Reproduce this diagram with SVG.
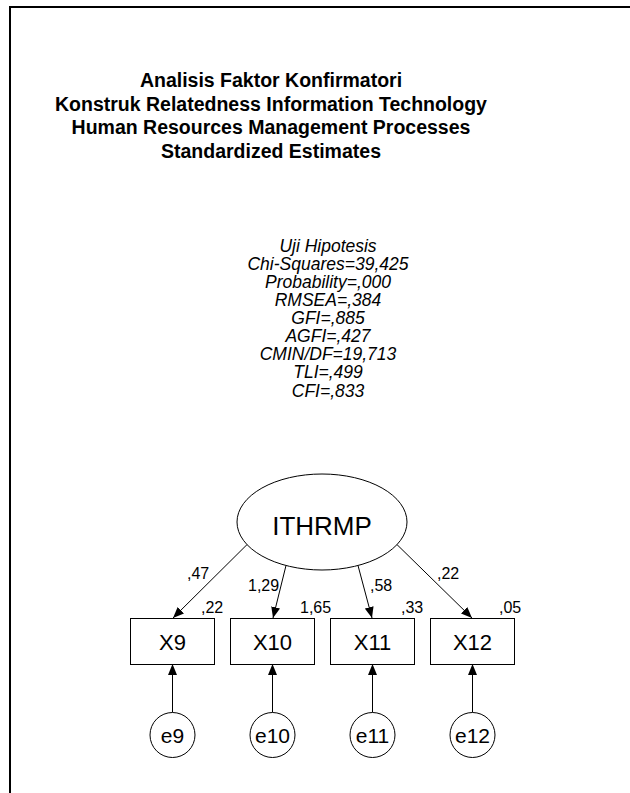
<svg xmlns="http://www.w3.org/2000/svg" width="630" height="793" viewBox="0 0 630 793">
<style>
.title{font-family:"Liberation Sans",Arial,sans-serif;font-weight:bold;font-size:19.5px;text-anchor:middle;fill:#000}
.fit{font-family:"Liberation Sans",Arial,sans-serif;font-style:italic;font-size:17.5px;text-anchor:middle;fill:#000}
.lbl{font-family:"Liberation Sans",Arial,sans-serif;font-size:16px;fill:#000}
.node{font-family:"Liberation Sans",Arial,sans-serif;font-size:22px;text-anchor:middle;fill:#000}
.shape{fill:#fff;stroke:#000;stroke-width:1}
.conn{stroke:#000;stroke-width:1;fill:none;marker-end:url(#ah)}
</style>
<defs>
<marker id="ah" markerWidth="11" markerHeight="9" refX="11" refY="4.5" orient="auto" markerUnits="userSpaceOnUse">
<path d="M0,0 L11,4.5 L0,9 Z" fill="#000"/>
</marker>
</defs>
<rect width="630" height="793" fill="#fff"/>
<path d="M10,793 V7 H630" fill="none" stroke="#000" stroke-width="2"/>
<g id="title">
<text class="title" x="271" y="87">Analisis Faktor Konfirmatori</text>
<text class="title" x="271" y="110.5">Konstruk Relatedness Information Technology</text>
<text class="title" x="271" y="134">Human Resources Management Processes</text>
<text class="title" x="271" y="157.5">Standardized Estimates</text>
</g>
<g id="fit">
<text class="fit" x="328" y="251.7">Uji Hipotesis</text>
<text class="fit" x="328" y="269.8">Chi-Squares=39,425</text>
<text class="fit" x="328" y="287.9">Probability=,000</text>
<text class="fit" x="328" y="306">RMSEA=,384</text>
<text class="fit" x="328" y="324.1">GFI=,885</text>
<text class="fit" x="328" y="342.2">AGFI=,427</text>
<text class="fit" x="328" y="360.3">CMIN/DF=19,713</text>
<text class="fit" x="328" y="378.4">TLI=,499</text>
<text class="fit" x="328" y="396.5">CFI=,833</text>
</g>
<g id="connectors">
<line class="conn" x1="247" y1="544.6" x2="173" y2="618"/>
<line class="conn" x1="286" y1="565.5" x2="273" y2="618"/>
<line class="conn" x1="358" y1="565.5" x2="372" y2="618"/>
<line class="conn" x1="397" y1="544.6" x2="472" y2="618"/>
<line class="conn" x1="172.5" y1="712.5" x2="172.5" y2="664"/>
<line class="conn" x1="272.5" y1="712.5" x2="272.5" y2="664"/>
<line class="conn" x1="372.5" y1="712.5" x2="372.5" y2="664"/>
<line class="conn" x1="472.5" y1="712.5" x2="472.5" y2="664"/>
</g>
<g id="labels">
<text class="lbl" x="187" y="579">,47</text>
<text class="lbl" x="201" y="613">,22</text>
<text class="lbl" x="248" y="591">1,29</text>
<text class="lbl" x="300" y="613">1,65</text>
<text class="lbl" x="370" y="591">,58</text>
<text class="lbl" x="401" y="613">,33</text>
<text class="lbl" x="437" y="579">,22</text>
<text class="lbl" x="499" y="613">,05</text>
</g>
<g id="ITHRMP">
<ellipse class="shape" cx="322" cy="522" rx="85" ry="48"/>
<text class="node" x="322" y="535" style="font-size:26px">ITHRMP</text>
</g>
<g id="X9"><rect class="shape" x="130.5" y="618.5" width="84" height="46"/><text class="node" x="172.5" y="650">X9</text></g>
<g id="X10"><rect class="shape" x="230.5" y="618.5" width="84" height="46"/><text class="node" x="272.5" y="650">X10</text></g>
<g id="X11"><rect class="shape" x="330.5" y="618.5" width="84" height="46"/><text class="node" x="372.5" y="650">X11</text></g>
<g id="X12"><rect class="shape" x="430.5" y="618.5" width="84" height="46"/><text class="node" x="472.5" y="650">X12</text></g>
<g id="e9"><circle class="shape" cx="172.5" cy="735" r="22.5"/><text class="node" x="172.5" y="743" style="font-size:21px">e9</text></g>
<g id="e10"><circle class="shape" cx="272.5" cy="735" r="22.5"/><text class="node" x="272.5" y="743" style="font-size:21px">e10</text></g>
<g id="e11"><circle class="shape" cx="372.5" cy="735" r="22.5"/><text class="node" x="372.5" y="743" style="font-size:21px">e11</text></g>
<g id="e12"><circle class="shape" cx="472.5" cy="735" r="22.5"/><text class="node" x="472.5" y="743" style="font-size:21px">e12</text></g>
</svg>
